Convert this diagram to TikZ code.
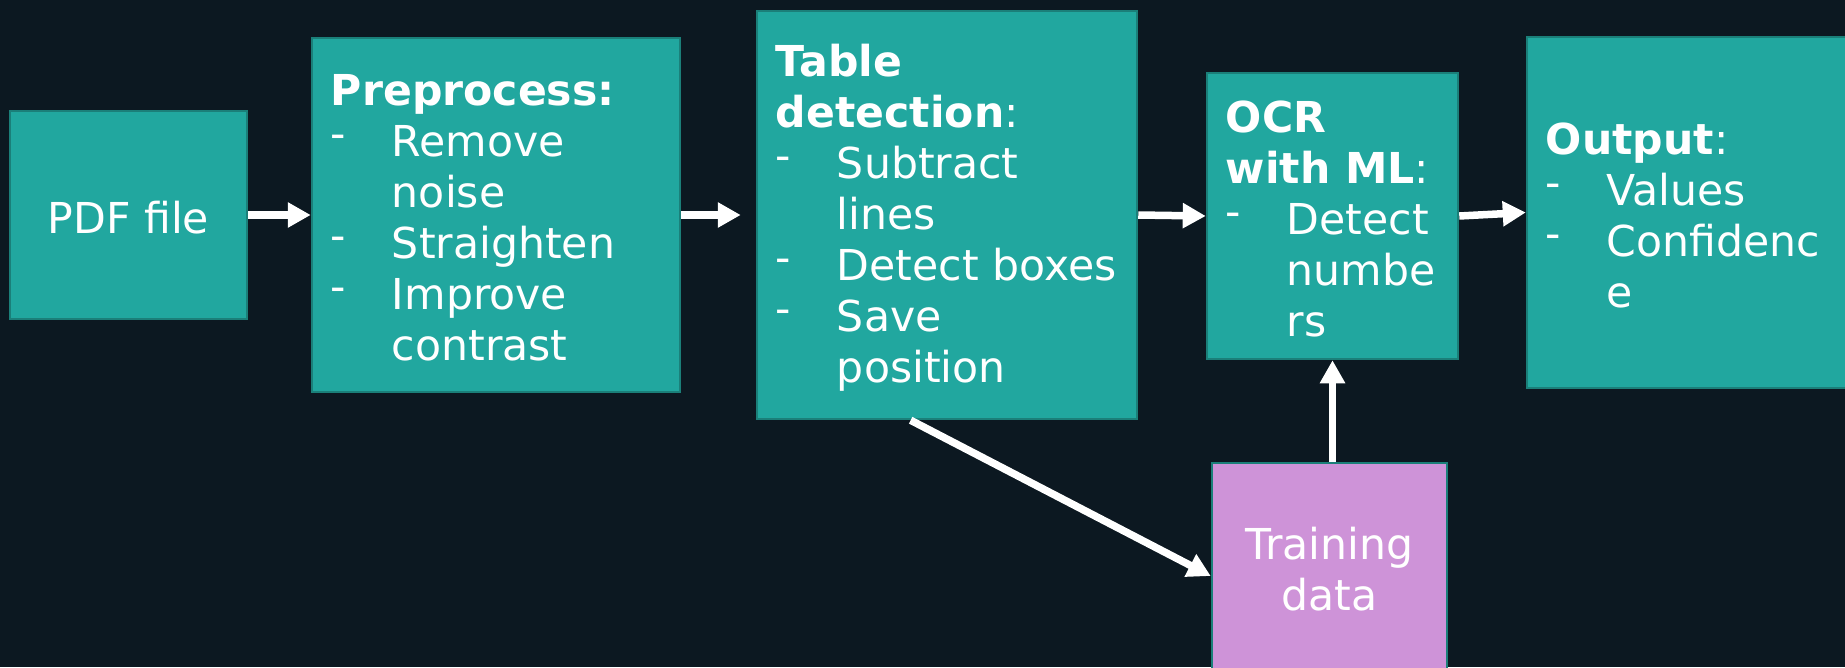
\documentclass[tikz,border=0pt]{standalone}
\usepackage{fontspec}
\setmainfont{DejaVu Sans}
\usetikzlibrary{arrows.meta,calc}
\definecolor{bgc}{HTML}{0C1821}
\definecolor{tealfill}{HTML}{21A79F}
\definecolor{tealedge}{HTML}{1B7F79}
\definecolor{purp}{HTML}{CE93D8}
\newcommand{\bulitem}[1]{\makebox[61pt][l]{\raisebox{8.5pt}{-}}#1}
\newcommand{\contitem}[1]{\hspace*{61pt}#1}
\begin{document}
\begin{tikzpicture}[x=1pt,y=-1pt,
  box/.style={draw=tealedge, line width=2.5pt, fill=tealfill, text=white,
    font=\fontsize{42.6}{51}\selectfont, inner sep=0pt, align=center},
  txt/.style={text=white, font=\fontsize{42.6}{51}\selectfont, inner sep=0pt,
    align=left, anchor=west},
  arr/.style={draw=white, line width=7.5pt, -{Triangle[length=23pt,width=24pt]}}]
\useasboundingbox (0,0) rectangle (1845,667);
\clip (0,0) rectangle (1845,667);
\fill[bgc] (0,0) rectangle (1845,667);

\node[box, minimum width=237pt, minimum height=208pt] (pdf) at (128.5,215) {};
\node[text=white, font=\fontsize{42.6}{51}\selectfont, inner sep=0pt] (pdfT) at ($(pdf.center)+(0,2.5)$) {PDF file};

\node[box, minimum width=368pt, minimum height=354pt] (pre) at (496,215) {};
\node[txt] (preT) at ($(pre.west)+(20,3)$)
  {\textbf{Preprocess:}\\ \bulitem{Remove}\\ \contitem{noise}\\ \bulitem{Straighten}\\ \bulitem{Improve}\\ \contitem{contrast}};

\node[box, minimum width=380pt, minimum height=408pt] (tab) at (947,215) {};
\node[txt] (tabT) at ($(tab.west)+(20,3)$)
  {\textbf{Table}\\ \textbf{detection}:\\ \bulitem{Subtract}\\ \contitem{lines}\\ \bulitem{Detect boxes}\\ \bulitem{Save}\\ \contitem{position}};

\node[box, minimum width=251pt, minimum height=286pt] (ocr) at (1332.5,216) {};
\node[txt] (ocrT) at ($(ocr.west)+(20,3)$)
  {\textbf{OCR}\\ \textbf{with ML}:\\ \bulitem{Detect}\\ \contitem{numbe}\\ \contitem{rs}};

\node[box, minimum width=353pt, minimum height=351pt] (out) at (1703.5,212.5) {};
\node[txt] (outT) at ($(out.west)+(20,3)$)
  {\textbf{Output}:\\ \bulitem{Values}\\ \bulitem{Confidenc}\\ \contitem{e}};

\node[box, fill=purp, minimum width=235pt, minimum height=208pt] (train) at (1329.5,567) {};
\node[text=white, font=\fontsize{42.6}{51}\selectfont, inner sep=0pt, align=center] (trainT) at ($(train.center)+(0,2)$) {Training\\data};

\draw[arr] (pdf.east) -- (pre.west);
\draw[arr, shorten >=15pt] (pre.east) -- (tab.west);
\draw[arr] (tab.east) -- (ocr.west);
\draw[arr] (ocr.east) -- (out.west);
\draw[arr] (ocr.south |- train.north) -- (ocr.south);
\draw[arr] ($(tab.south west)!0.405!(tab.south east)$) -- ($(train.west)+(0,9)$);
\end{tikzpicture}
\end{document}
